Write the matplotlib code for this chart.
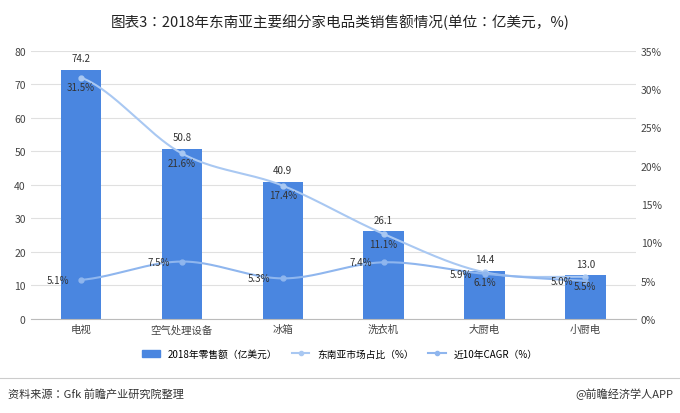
import matplotlib
matplotlib.use("Agg")
import matplotlib.pyplot as plt
from matplotlib import font_manager
import numpy as np

names = {f.name for f in font_manager.fontManager.ttflist}
cjk = [n for n in ["Noto Sans CJK SC", "Noto Sans CJK JP", "Noto Sans CJK TC", "Noto Sans CJK KR"] if n in names]
plt.rcParams["font.family"] = "sans-serif"
plt.rcParams["font.sans-serif"] = cjk + ["DejaVu Sans"]

categories = ["电视", "空气处理设备", "冰箱", "洗衣机", "大厨电", "小厨电"]
sales = [74.2, 50.8, 40.9, 26.1, 14.4, 13.0]
share = [31.5, 21.6, 17.4, 11.1, 6.1, 5.5]
cagr = [5.1, 7.5, 5.3, 7.4, 5.9, 5.0]

fig = plt.figure(figsize=(6.8, 4.14), dpi=100)
ax = fig.add_axes([0.045, 0.227, 0.89, 0.648])
ax2 = ax.twinx()
x = np.arange(len(categories))
ax.bar(x, sales, width=0.4, color="#4a86e0", zorder=2)
for xi, v in zip(x, sales):
    ax.text(xi, v + 2, f"{v:.1f}", ha="center", va="bottom", fontsize=7, color="#333")

xs = np.linspace(0, 5, 300)
def smooth(xv, yv, xs):
    out = []
    for t in xs:
        i = min(int(t), len(xv) - 2)
        u = t - i
        p0 = yv[max(i - 1, 0)]; p1 = yv[i]; p2 = yv[i + 1]; p3 = yv[min(i + 2, len(yv) - 1)]
        out.append(0.5 * ((2 * p1) + (-p0 + p2) * u + (2 * p0 - 5 * p1 + 4 * p2 - p3) * u**2 + (-p0 + 3 * p1 - 3 * p2 + p3) * u**3))
    return np.array(out)
ax2.plot(xs, smooth(x, share, xs), color="#a9c8f2", lw=1.5, zorder=3)
ax2.plot(x, share, "o", color="#a9c8f2", ms=3.5, zorder=3)
ax2.plot(xs, smooth(x, cagr, xs), color="#8fb6ee", lw=1.5, zorder=3)
ax2.plot(x, cagr, "o", color="#8fb6ee", ms=3.5, zorder=3)
for xi, v in zip(x, share):
    ax2.text(xi, v - 0.6, f"{v:.1f}%", ha="center", va="top", fontsize=7, color="#333")
for xi, v in zip(x, cagr):
    ax2.text(xi - 0.12, v, f"{v:.1f}%", ha="right", va="center", fontsize=7, color="#333")

ax.set_ylim(0, 80); ax.set_yticks(range(0, 81, 10))
ax2.set_ylim(0, 35); ax2.set_yticks(range(0, 36, 5))
ax2.set_yticklabels([f"{t}%" for t in range(0, 36, 5)])
ax.set_xlim(-0.5, 5.5)
ax.set_xticks(x); ax.set_xticklabels(categories)
for a in (ax, ax2):
    a.tick_params(length=0, labelsize=7.5, colors="#444")
    for s in a.spines.values():
        s.set_visible(False)
ax.spines["bottom"].set_visible(True); ax.spines["bottom"].set_color("#bbb")
ax.grid(axis="y", color="#e0e0e0", lw=0.8, zorder=0)
ax.set_axisbelow(True)

fig.text(0.5, 0.945, "图表3：2018年东南亚主要细分家电品类销售额情况(单位：亿美元，%)", ha="center", va="center", fontsize=10.5, color="#222")

from matplotlib.patches import Patch
from matplotlib.lines import Line2D
handles = [Patch(color="#4a86e0"),
           Line2D([], [], color="#a9c8f2", marker="o", ms=3),
           Line2D([], [], color="#8fb6ee", marker="o", ms=3)]
fig.legend(handles, ["2018年零售额（亿美元）", "东南亚市场占比（%）", "近10年CAGR（%）"],
           loc="center", bbox_to_anchor=(0.5, 0.143), ncol=3, frameon=False, fontsize=7,
           handlelength=1.8, columnspacing=1.5)
fig.add_artist(Line2D([0, 1], [0.085, 0.085], color="#ccc", lw=0.8, transform=fig.transFigure))
fig.text(0.012, 0.048, "资料来源：Gfk 前瞻产业研究院整理", fontsize=8, style="italic", color="#333", va="center")
fig.text(0.99, 0.048, "@前瞻经济学人APP", fontsize=8, color="#333", va="center", ha="right")
fig.savefig("out.png", dpi=100)
